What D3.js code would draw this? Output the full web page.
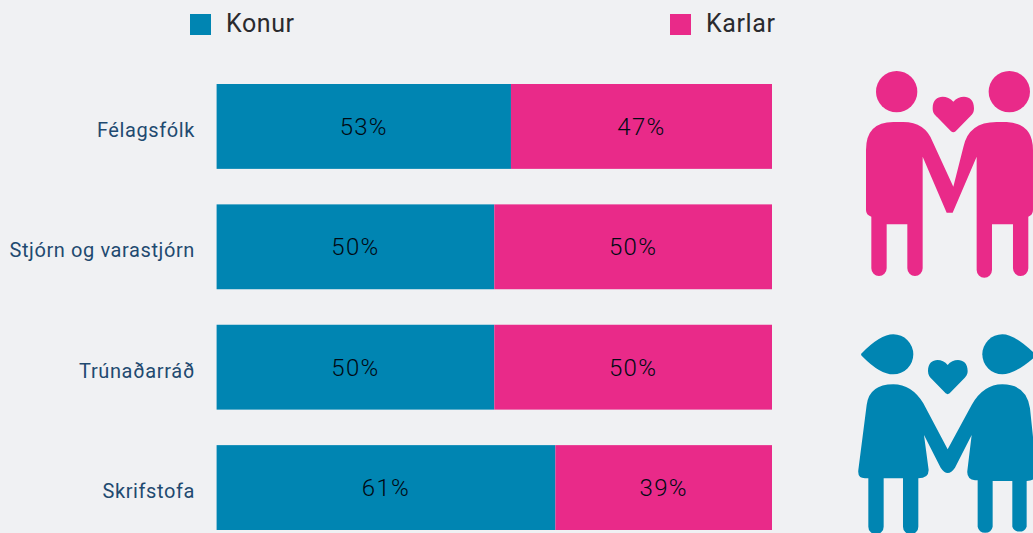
<!DOCTYPE html>
<html>
<head>
<meta charset="utf-8">
<script src="https://cdn.jsdelivr.net/npm/d3@7"></script>
<style>
  html, body { margin: 0; padding: 0; background: #f0f1f3; overflow: hidden; }
  svg { display: block; font-family: "Roboto", sans-serif; }
</style>
</head>
<body>
<div id="chart"></div>
<script>
// Chart Data
const categories = ["Félagsfólk", "Stjórn og varastjórn", "Trúnaðarráð", "Skrifstofa"];
const seriesNames = ["Konur", "Karlar"];
const konur = [53, 50, 50, 61];
const karlar = [47, 50, 50, 39];
const seriesColors = ["#0085b2", "#e92a89"];

// Initialise Dimensions
let w = 1033, h = 533;
let svg = d3.select("#chart").append("svg").attr("width", w).attr("height", h);

// Initialise Scales
let xScale = d3.scaleLinear().domain([0, 100]).range([216.6, 772]);
let yScale = d3.scaleBand().domain(categories).range([84, 530]).paddingInner(0.295).paddingOuter(0);

// Stack The Two Series
let rows = categories.map((c, i) => ({ category: c, Konur: konur[i], Karlar: karlar[i] }));
let stacked = d3.stack().keys(seriesNames)(rows);

// Draw Bars
let groups = svg.selectAll("g.series").data(stacked).enter().append("g").attr("class", "series").attr("fill", (d, i) => seriesColors[i]);
groups.selectAll("rect").data((d) => d).enter().append("rect")
  .attr("x", (d) => xScale(d[0]))
  .attr("y", (d) => yScale(d.data.category))
  .attr("width", (d) => xScale(d[1]) - xScale(d[0]))
  .attr("height", yScale.bandwidth());

// Value Labels
groups.selectAll("text").data((d) => d).enter().append("text")
  .attr("x", (d) => xScale((d[0] + d[1]) / 2))
  .attr("y", (d) => yScale(d.data.category) + yScale.bandwidth() / 2 + 8.5)
  .attr("text-anchor", "middle")
  .attr("fill", "#000a14")
  .attr("font-size", 24)
  .attr("font-weight", 300)
  .attr("letter-spacing", 1.3)
  .text((d) => (d[1] - d[0]) + "%");

// Category Axis
let yAxis = d3.axisLeft(yScale).tickSize(0).tickPadding(22);
let axisG = svg.append("g").attr("transform", "translate(217, 0)").call(yAxis);
axisG.select(".domain").remove();
axisG.selectAll("text").attr("font-size", 20).attr("font-family", "Roboto, sans-serif").attr("fill", "#1f4a70").attr("letter-spacing", 0.6).attr("dy", "0.52em");

// Legend
let legendX = [190, 670];
seriesNames.forEach((name, i) => {
  svg.append("rect").attr("x", legendX[i]).attr("y", 14).attr("width", 21).attr("height", 21).attr("fill", seriesColors[i]);
  svg.append("text").attr("x", legendX[i] + 36).attr("y", 32).attr("font-size", 25).attr("letter-spacing", 0.6).attr("fill", "#2a2a2e").text(name);
});

// Pink Couple Icon
let pink = svg.append("g").attr("transform", "translate(850, 60) scale(0.3333)").attr("fill", seriesColors[1]);
pink.append("circle").attr("cx", 140).attr("cy", 95).attr("r", 62);
pink.append("circle").attr("cx", 478).attr("cy", 95).attr("r", 62);
pink.append("path").attr("d", "M310 125C290 103 248 103 248 145C248 160 255 165 262 172L303 214Q310 220 317 214L358 172C365 165 372 160 372 145C372 103 330 103 310 125Z");
pink.append("path").attr("d", "M48 270Q48 186 130 186H160Q225 186 248 245L310 380L340 262Q355 186 440 186H470Q549 190 549 270V450Q549 465 535 470V625A23 23 0 0 1 489 625V493H426V630A23 23 0 0 1 380 630V290L308 458H290L218 290V625A23 23 0 0 1 172 625V493H110V625A23 23 0 0 1 64 625V470Q48 465 48 450Z");

// Blue Couple Icon
let blue = svg.append("g").attr("transform", "translate(850, 325) scale(0.3333)").attr("fill", seriesColors[0]);
blue.append("path").attr("d", "M33 87Q90 28 130 28A60 60 0 0 1 130 148Q90 148 38 95Q33 92 33 87Z");
blue.append("path").attr("d", "M555 87Q495 28 457 28A60 60 0 0 0 457 148Q495 148 555 95Z");
blue.append("path").attr("d", "M293 120C275 98 234 98 234 138C234 150 240 157 246 163L287 205Q293 210 299 205L340 163C346 157 353 150 353 138C353 98 311 98 293 120Z");
blue.append("path").attr("d", "M50 240Q58 178 130 178Q185 178 220 235L293 373L365 240Q400 178 457 178Q530 178 540 250L560 440Q560 468 530 468V605A23 23 0 0 1 487 605V468H428V605A23 23 0 0 1 383 605V466H375Q350 462 352 438L365 330L315 428Q293 460 272 428L222 330L236 435Q236 460 205 460V605A23 23 0 0 1 159 605V460H101V605A23 23 0 0 1 55 605V460H45Q22 460 25 435Z");
</script>
</body>
</html>
